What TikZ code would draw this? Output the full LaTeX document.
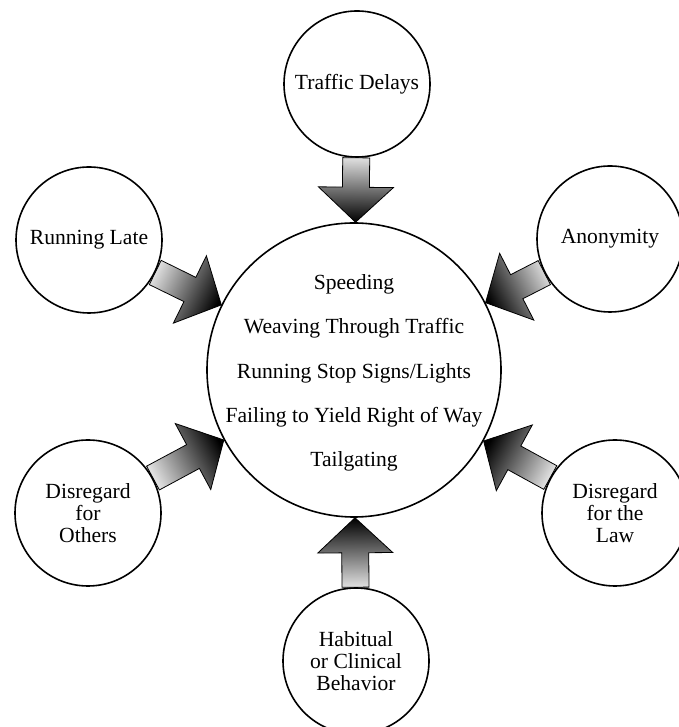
\documentclass[tikz,border=0pt]{standalone}
\usepackage{fontspec}
\setmainfont{Liberation Serif}
\usetikzlibrary{calc,backgrounds}

\tikzset{
  cause/.style={circle,draw,fill=white,line width=1.6pt,minimum size=146pt,inner sep=0pt,
    align=center,font=\fontsize{21.6}{22}\selectfont},
  core/.style={circle,draw,fill=white,line width=1.6pt,minimum size=294pt,inner sep=0pt},
  arrowbody/.style={draw=black,line width=0.8pt,top color=black!12,bottom color=black},
}

% fat shaded arrow from the border of #1 to the border of #2
\newcommand{\fatarrow}[2]{%
  \path (#1) -- (#2) coordinate[pos=0] (s) coordinate[pos=1] (t);
  \coordinate (h) at ($(t)!35pt!(s)$);
  \pgfmathanglebetweenpoints{\pgfpointanchor{s}{center}}{\pgfpointanchor{t}{center}}
  \pgfmathsetmacro\arrowang{\pgfmathresult+90}
  \begin{pgfonlayer}{background}
    \shade[arrowbody,shading angle=\arrowang]
      ($(s)!13.5pt!90:(t)$) -- ($(h)!13.5pt!90:(t)$) -- ($(h)!37.5pt!90:(t)$) -- (t)
      -- ($(h)!37.5pt!-90:(t)$) -- ($(h)!13.5pt!-90:(t)$) -- ($(s)!13.5pt!-90:(t)$) -- cycle;
  \end{pgfonlayer}
}

\begin{document}
\begin{tikzpicture}[x=1pt,y=1pt]
  \useasboundingbox (0,0) rectangle (678,727);

  \node[core] (core) at (354,357) {};
  \node[align=center,font=\fontsize{21.6}{44.4}\selectfont] (corelist) at ([yshift=-3pt]core.center)
    {Speeding\\Weaving Through Traffic\\Running Stop Signs/Lights\\Failing to Yield Right of Way\\Tailgating};

  \node[cause] (delays) at (357,643) {Traffic Delays};
  \node[cause] (late) at (89,487) {Running Late};
  \node[cause] (anon) at (610,488) {Anonymity};
  \node[cause] (others) at (88,214) {Disregard\\for\\Others};
  \node[cause] (law) at (615,214) {Disregard\\for the\\Law};
  \node[cause] (habit) at (356,66) {Habitual\\or Clinical\\Behavior};

  \fatarrow{delays}{core}
  \fatarrow{late}{core}
  \fatarrow{anon}{core}
  \fatarrow{others}{core}
  \fatarrow{law}{core}
  \fatarrow{habit}{core}
\end{tikzpicture}
\end{document}
